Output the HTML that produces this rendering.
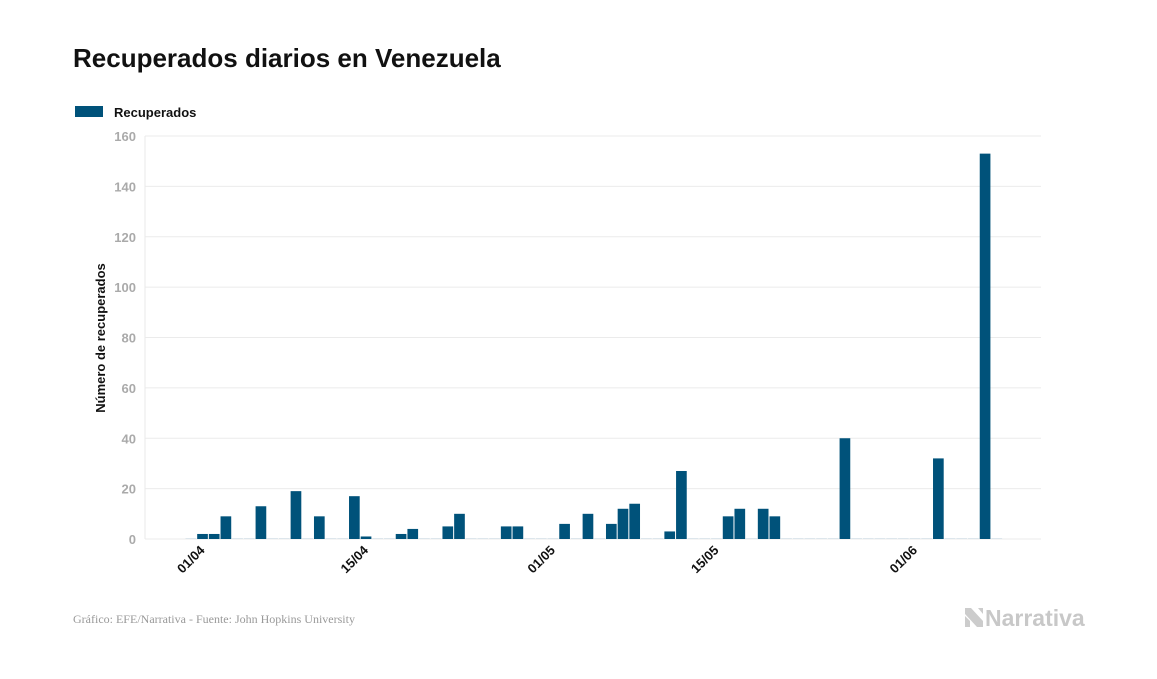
<!DOCTYPE html>
<html><head><meta charset="utf-8"><style>
body{margin:0;background:#fff;width:1157px;height:674px;overflow:hidden;font-family:"Liberation Sans",sans-serif}
</style></head><body>
<svg width="1157" height="674" xmlns="http://www.w3.org/2000/svg">
<text x="73" y="67" font-size="26" font-weight="bold" fill="#111">Recuperados diarios en Venezuela</text>
<rect x="75" y="106" width="28" height="11" fill="#00527a"/>
<text x="114" y="117" font-size="13" font-weight="bold" fill="#111">Recuperados</text>
<g id="grid"></g>
<g id="bars"></g>
<g id="xt"></g>
<text transform="translate(105,338) rotate(-90)" text-anchor="middle" font-size="13" font-weight="bold" fill="#111">Número de recuperados</text>
<text x="73" y="623" font-family="Liberation Serif,serif" font-size="12" fill="#999">Gráfico: EFE/Narrativa - Fuente: John Hopkins University</text>
<g>
<polygon points="965,608 971,608 983,621 983,627 977,627 965,614" fill="#ccc"/>
<polygon points="965,616 970,621 970,627 965,627" fill="#ccc"/>
<polygon points="978,608 983,608 983,614" fill="#ccc"/>
<text x="985" y="626" font-size="23" font-weight="bold" fill="#c8c8c8">Narrativa</text>
</g>
</svg>
<script>
const yTicks=[0,20,40,60,80,100,120,140,160];
const values=[0,2,2,9,0,0,13,0,0,19,0,9,0,0,17,1,0,0,2,4,0,0,5,10,0,0,0,5,5,0,0,0,6,0,10,0,6,12,14,0,0,3,27,0,0,0,9,12,0,12,9,0,0,0,0,0,40,0,0,0,0,0,0,0,32,0,0,0,153,0];
const xTickLabels=["01/04","15/04","01/05","15/05","01/06"];
const xTickIdx=[1,15,31,45,62];
const NS="http://www.w3.org/2000/svg";
const x0=185,slot=11.68,y0=539,ppu=(539-136)/160;
const X=i=>x0+i*slot, Y=v=>y0-v*ppu;
function mk(t,a,p){const e=document.createElementNS(NS,t);for(const k in a)e.setAttribute(k,a[k]);p.appendChild(e);return e;}
const g=document.getElementById('grid');
mk('line',{x1:145,x2:145,y1:136,y2:539,stroke:'#e8e8e8'},g);
yTicks.forEach(v=>{
 const l=mk('line',{x1:145,x2:1041,y1:Y(v),y2:Y(v),stroke:'#ebebeb'},g);
 
 
 const t=mk('text',{x:136,y:Y(v)+5,'text-anchor':'end','font-size':13,'font-weight':'bold',fill:'#aaa'},g);
 t.textContent=v;
 
 
});
const b=document.getElementById('bars');
values.forEach((v,i)=>{
 if(v===0){
  const z=mk('rect',{x:X(i)+0.5,y:y0-1,width:slot-1,height:1,fill:'#dde6ec'},b);
  
  
 }else{
  const r=mk('rect',{x:X(i)+0.5,y:Y(v),width:slot-1,height:v*ppu,fill:'#00527a'},b);
  
  
 }
});
const xt=document.getElementById('xt');
xTickLabels.forEach((s,k)=>{
 const cx=X(xTickIdx[k])+slot/2+3, cy=551;
 const t=mk('text',{x:cx,y:cy,'text-anchor':'end','font-size':13,'font-weight':'bold',fill:'#111',transform:`rotate(-45 ${cx} ${cy})`},xt);
 t.textContent=s;
 
 
});
</script>
</body></html>
